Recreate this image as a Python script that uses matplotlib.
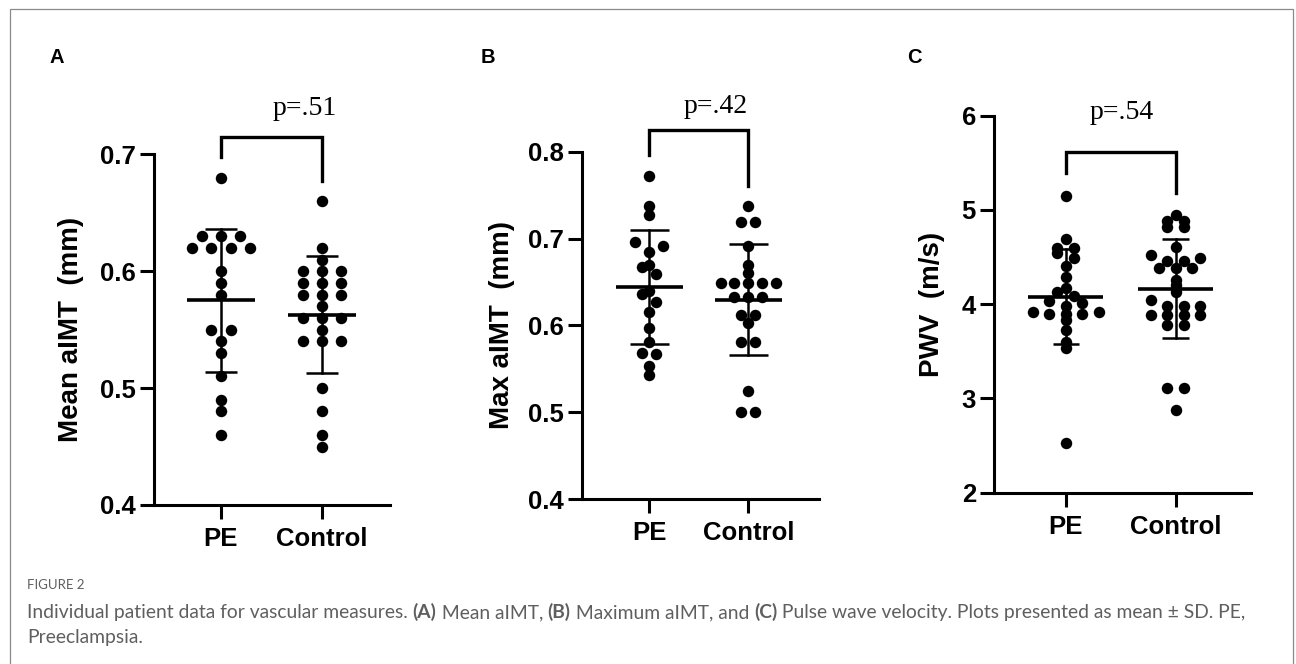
import matplotlib
matplotlib.use('Agg')
import matplotlib.pyplot as plt
import numpy as np
from matplotlib.patches import Rectangle

# ---- data ----
GROUPS = ['PE', 'Control']

MEAN_AIMT_PE = [0.68, 0.63, 0.63, 0.63, 0.62, 0.62, 0.62, 0.62, 0.60, 0.59,
                0.58, 0.55, 0.55, 0.54, 0.53, 0.51, 0.49, 0.48, 0.46]
MEAN_AIMT_CONTROL = [0.66, 0.62, 0.61, 0.60, 0.60, 0.60, 0.59, 0.59, 0.59,
                     0.58, 0.58, 0.58, 0.57, 0.56, 0.56, 0.56, 0.55, 0.54,
                     0.54, 0.54, 0.50, 0.48, 0.46, 0.45]

MAX_AIMT_PE = [0.772, 0.737, 0.727, 0.696, 0.692, 0.685, 0.670, 0.667, 0.659,
               0.640, 0.636, 0.627, 0.615, 0.597, 0.581, 0.568, 0.567, 0.553,
               0.543]
MAX_AIMT_CONTROL = [0.737, 0.719, 0.719, 0.692, 0.670, 0.660, 0.649, 0.649,
                    0.649, 0.649, 0.649, 0.633, 0.633, 0.633, 0.612, 0.612,
                    0.603, 0.581, 0.581, 0.524, 0.500, 0.500]

PWV_PE = [5.15, 4.69, 4.60, 4.60, 4.54, 4.49, 4.40, 4.29, 4.17, 4.13, 4.09,
          4.03, 4.01, 3.98, 3.92, 3.92, 3.90, 3.90, 3.90, 3.83, 3.73, 3.60,
          3.54, 2.53]
PWV_CONTROL = [4.95, 4.88, 4.88, 4.82, 4.82, 4.61, 4.52, 4.49, 4.46, 4.46,
               4.38, 4.38, 4.38, 4.26, 4.20, 4.13, 4.04, 3.98, 3.98, 3.98,
               3.89, 3.89, 3.89, 3.89, 3.78, 3.78, 3.11, 3.11, 2.88]

P_VALUES = ['p=.51', 'p=.42', 'p=.54']
Y_LABELS = ['Mean aIMT  (mm)', 'Max aIMT  (mm)', 'PWV  (m/s)']
Y_TICKS = [[0.4, 0.5, 0.6, 0.7], [0.4, 0.5, 0.6, 0.7, 0.8], [2, 3, 4, 5, 6]]
Y_TICK_LABELS = [['0.4', '0.5', '0.6', '0.7'],
                 ['0.4', '0.5', '0.6', '0.7', '0.8'],
                 ['2', '3', '4', '5', '6']]
PANEL_LETTERS = ['A', 'B', 'C']

CAPTION_HEAD = 'FIGURE 2'
CAPTION_LINE1 = [
    ('Individual patient data for vascular measures. ', 'normal'),
    ('(A)', 'bold'), (' Mean aIMT, ', 'normal'),
    ('(B)', 'bold'), (' Maximum aIMT, and ', 'normal'),
    ('(C)', 'bold'),
    (' Pulse wave velocity. Plots presented as mean \u00b1 SD. PE,', 'normal'),
]
CAPTION_LINE2 = [('Preeclampsia.', 'normal')]

# ---- layout (pixels of the 1296x664 canvas) ----
W, H = 1296, 664
PANELS = [
    dict(data=(MEAN_AIMT_PE, MEAN_AIMT_CONTROL), box=(154, 154.3, 390, 505),
         xlim=(-0.663, 1.673), ylim=(0.4, 0.7), bracket=(0.715, 0.698, 0.677),
         ptext=(0.83, 0.7335), bin_h=0.01, gap=0.19, cap=0.16, labelpad=11.5,
         letter=(50, 63)),
    dict(data=(MAX_AIMT_PE, MAX_AIMT_CONTROL), box=(581.7, 151.7, 819, 499.2),
         xlim=(-0.683, 1.714), ylim=(0.4, 0.8), bracket=(0.825, 0.796, 0.7605),
         ptext=(0.67, 0.8445), bin_h=0.015, gap=0.14, cap=0.2, labelpad=9.5,
         letter=(481, 63)),
    dict(data=(PWV_PE, PWV_CONTROL), box=(994, 115.7, 1250.7, 492.7),
         xlim=(-0.652, 1.682), ylim=(2, 6), bracket=(5.618, 5.389, 5.177),
         ptext=(0.51, 5.97), bin_h=0.1, gap=0.15, cap=0.12, labelpad=12,
         letter=(907, 63)),
]

SANS = ['Liberation Sans', 'DejaVu Sans']
SERIF = ['Liberation Serif', 'DejaVu Serif']


def swarm_offsets(values, bin_h, gap):
    values = np.asarray(values, dtype=float)
    keys = np.round(values / bin_h + 1e-9).astype(int)
    offsets = np.zeros(len(values))
    for key in np.unique(keys):
        idx = np.where(keys == key)[0]
        idx = idx[np.argsort(-values[idx], kind='stable')]
        n = len(idx)
        slots = (np.arange(n) - (n - 1) / 2.0) * gap
        order = sorted(range(n), key=lambda i: (-abs(slots[i]), slots[i]))
        for j, i in zip(idx, order):
            offsets[j] = slots[i]
    return offsets


def draw_panel(fig, spec, ylabel, yticks, yticklabels, ptxt, letter):
    left, top, right, bottom = spec['box']
    ax = fig.add_axes([left / W, 1 - bottom / H, (right - left) / W,
                       (bottom - top) / H])
    for pos, values in enumerate(spec['data']):
        values = np.asarray(values)
        xs = pos + swarm_offsets(values, spec['bin_h'], spec['gap'])
        ax.scatter(xs, values, s=68, color='black', linewidths=0, zorder=3,
                   clip_on=False)
        mean = values.mean()
        sd = values.std(ddof=1)
        ax.plot([pos - 0.34, pos + 0.34], [mean, mean], color='black',
                lw=2.6, solid_capstyle='butt', zorder=4)
        ax.plot([pos, pos], [mean - sd, mean + sd], color='black', lw=1.8,
                zorder=4)
        for end in (mean - sd, mean + sd):
            ax.plot([pos - spec['cap'], pos + spec['cap']], [end, end],
                    color='black', lw=1.8, solid_capstyle='butt', zorder=4)

    top_y, left_y, right_y = spec['bracket']
    ax.plot([0, 0, 1, 1], [left_y, top_y, top_y, right_y], color='black',
            lw=2.4, clip_on=False, solid_joinstyle='miter')
    ax.text(spec['ptext'][0], spec['ptext'][1], ptxt, ha='center',
            va='baseline', fontsize=20, family=SERIF, clip_on=False)

    ax.set_xlim(*spec['xlim'])
    ax.set_ylim(*spec['ylim'])
    ax.set_xticks(range(len(GROUPS)))
    ax.set_xticklabels(GROUPS)
    ax.set_yticks(yticks)
    ax.set_yticklabels(yticklabels)
    for side in ('top', 'right'):
        ax.spines[side].set_visible(False)
    for side in ('left', 'bottom'):
        ax.spines[side].set_linewidth(2.2)
        ax.spines[side].set_capstyle('projecting')
    ax.tick_params(width=2.2, length=10, labelsize=18.5)
    ax.tick_params(axis='y', pad=3)
    ax.tick_params(axis='x', pad=6)
    for lab in ax.get_xticklabels() + ax.get_yticklabels():
        lab.set_fontweight('bold')
        lab.set_family(SANS)
    ax.set_ylabel(ylabel, fontsize=20, fontweight='bold', family=SANS,
                  labelpad=spec['labelpad'])
    ax.patch.set_visible(False)

    lx, ly = spec['letter']
    fig.text(lx / W, 1 - ly / H, letter, fontsize=14.5, fontweight='bold',
             family=SANS, ha='left', va='baseline')
    return ax


def draw_runs(fig, x_px, y_px, runs, **kw):
    renderer = fig.canvas.get_renderer()
    x = x_px
    for text, weight in runs:
        t = fig.text(x / W, 1 - y_px / H, text, fontweight=weight,
                     ha='left', va='baseline', **kw)
        x += t.get_window_extent(renderer).width


fig = plt.figure(figsize=(W / 100, H / 100), dpi=100)

for spec, ylabel, yt, ytl, ptxt, letter in zip(
        PANELS, Y_LABELS, Y_TICKS, Y_TICK_LABELS, P_VALUES, PANEL_LETTERS):
    draw_panel(fig, spec, ylabel, yt, ytl, ptxt, letter)

# outer frame of the figure box
fig.patches.append(Rectangle((10 / W, -0.05), 1283 / W, 1 - 9 / H + 0.05,
                             transform=fig.transFigure, fill=False,
                             edgecolor='#8a8a8a', lw=0.9))

cap_kw = dict(family=['Lato', 'DejaVu Sans'], color='#5f5f5f')
fig.text(27 / W, 1 - 589 / H, CAPTION_HEAD, fontsize=9.5, ha='left',
         va='baseline', **cap_kw)
draw_runs(fig, 27, 618, CAPTION_LINE1, fontsize=13.9, **cap_kw)
draw_runs(fig, 27, 643, CAPTION_LINE2, fontsize=13.9, **cap_kw)

fig.savefig('out.png', dpi=100, facecolor='white')
